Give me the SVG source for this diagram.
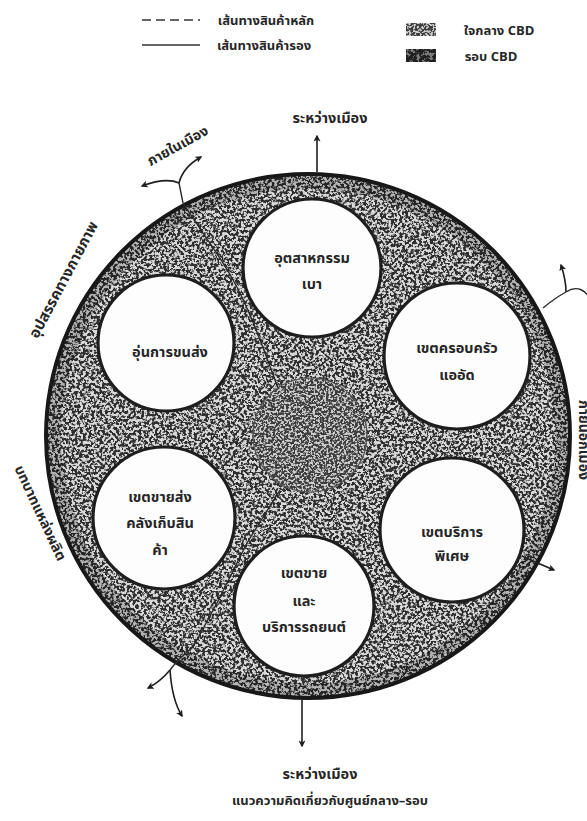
<svg xmlns="http://www.w3.org/2000/svg" width="587" height="821" viewBox="0 0 587 821">
<defs>
<style>
.t{font-family:"Noto Sans Thai","Noto Sans","DejaVu Sans",sans-serif;font-weight:bold;fill:#262626;text-anchor:middle}
.zone{fill:#fdfdfd;stroke:#1e1e1e;stroke-width:3.2}
.route{fill:none;stroke:#2a2a2a;stroke-width:1.4}
.arr{fill:none;stroke:#1e1e1e;stroke-width:1.6;marker-end:url(#ah)}
</style>
<marker id="ah" viewBox="0 0 10 10" refX="8" refY="5" markerWidth="7" markerHeight="7" orient="auto" markerUnits="userSpaceOnUse">
<path d="M0,0 L10,5 L0,10 L2.5,5 z" fill="#1e1e1e"/>
</marker>
<filter id="speckle" x="-2%" y="-2%" width="104%" height="104%" color-interpolation-filters="sRGB">
<feTurbulence type="fractalNoise" baseFrequency="0.36" numOctaves="3" seed="7" result="noise"/>
<feColorMatrix in="noise" type="matrix" values="0 0 0 0 0.18  0 0 0 0 0.18  0 0 0 0 0.18  8 0 0 0 -3.5" result="dark"/>
<feFlood flood-color="#d9d9d9" result="light"/>
<feComposite in="light" in2="SourceGraphic" operator="in" result="base"/>
<feComposite in="dark" in2="SourceGraphic" operator="in" result="darkIn"/>
<feMerge><feMergeNode in="base"/><feMergeNode in="darkIn"/></feMerge>
</filter>
<filter id="core" x="-2%" y="-2%" width="104%" height="104%" color-interpolation-filters="sRGB">
<feTurbulence type="fractalNoise" baseFrequency="0.45" numOctaves="3" seed="11" result="noise"/>
<feColorMatrix in="noise" type="matrix" values="0 0 0 0 0.24  0 0 0 0 0.24  0 0 0 0 0.24  8 0 0 0 -3.3" result="dark"/>
<feFlood flood-color="#cdcdcd" result="light"/>
<feComposite in="light" in2="SourceGraphic" operator="in" result="base"/>
<feComposite in="dark" in2="SourceGraphic" operator="in" result="darkIn"/>
<feMerge><feMergeNode in="base"/><feMergeNode in="darkIn"/></feMerge>
</filter>
<filter id="darksw" x="0" y="0" width="100%" height="100%" color-interpolation-filters="sRGB">
<feTurbulence type="fractalNoise" baseFrequency="0.3" numOctaves="2" seed="3" result="noise"/>
<feColorMatrix in="noise" type="matrix" values="0 0 0 0 0.12  0 0 0 0 0.12  0 0 0 0 0.12  9 0 0 0 -3.6" result="dark"/>
<feFlood flood-color="#7a7a7a" result="light"/>
<feComposite in="light" in2="SourceGraphic" operator="in" result="base"/>
<feComposite in="dark" in2="SourceGraphic" operator="in" result="darkIn"/>
<feMerge><feMergeNode in="base"/><feMergeNode in="darkIn"/></feMerge>
</filter>
</defs>
<rect width="587" height="821" fill="#ffffff"/>

<g id="legend">
<line x1="142" y1="20" x2="200" y2="20" stroke="#333" stroke-width="1.5" stroke-dasharray="9,5"/>
<text class="t" x="266" y="25" font-size="13" font-weight="normal">เส้นทางสินค้าหลัก</text>
<line x1="142" y1="45" x2="200" y2="45" stroke="#333" stroke-width="1.5"/>
<text class="t" x="264" y="50" font-size="13" font-weight="normal">เส้นทางสินค้ารอง</text>
<rect x="406" y="23" width="30" height="13" fill="#999" filter="url(#core)"/>
<text class="t" x="499" y="35" font-size="13">ใจกลาง CBD</text>
<rect x="406" y="49" width="30" height="13" fill="#444" filter="url(#darksw)"/>
<text class="t" x="491" y="61" font-size="13">รอบ CBD</text>
</g>

<g id="ring">
<circle cx="308" cy="436" r="262" fill="#888" filter="url(#speckle)"/>
<circle cx="308" cy="436" r="254" fill="none" stroke="#000" stroke-opacity="0.18" stroke-width="14"/>
<circle cx="308" cy="436" r="262" fill="none" stroke="#181818" stroke-width="4"/>
</g>

<g id="cbd-core">
<circle cx="310" cy="435" r="57" fill="#777" filter="url(#core)"/>
<circle cx="310" cy="435" r="57" fill="none" stroke="#555" stroke-width="1.2"/>
</g>

<g id="connectors">
<path class="route" d="M183,203 C200,230 215,248 232,278 S262,345 278,388"/>
<path class="route" d="M178,660 L193,647 L217,603 L247,543 L280,490"/>
<path class="arr" d="M317,172 L317,136"/>
<path class="arr" d="M302,700 L302,746"/>
<path class="route" d="M183,203 L179,183"/>
<path class="arr" d="M179,183 Q166,177 142,186"/>
<path class="arr" d="M179,183 Q183,167 201,157"/>
<path class="route" d="M543,308 Q555,298 566,292"/>
<path class="arr" d="M566,292 Q566,280 561,265"/>
<path class="route" d="M566,292 Q582,282 592,302"/>
<path class="route" d="M178,660 L170,670"/>
<path class="arr" d="M170,670 Q160,682 148,688"/>
<path class="arr" d="M170,670 Q172,700 182,716"/>
<path class="arr" d="M522,556 Q537,563 554,570"/>
</g>

<g id="zone-light-industry">
<circle class="zone" cx="312" cy="268" r="69"/>
<text class="t" x="312" y="263" font-size="14.5">อุตสาหกรรม</text>
<text class="t" x="312" y="289" font-size="14.5">เบา</text>
</g>
<g id="zone-transport">
<circle class="zone" cx="166" cy="343" r="68"/>
<text class="t" x="170" y="357" font-size="14.5">อุ่นการขนส่ง</text>
</g>
<g id="zone-housing">
<circle class="zone" cx="457" cy="356" r="73"/>
<text class="t" x="457" y="353" font-size="14.5">เขตครอบครัว</text>
<text class="t" x="457" y="380" font-size="14.5">แออัด</text>
</g>
<g id="zone-wholesale">
<circle class="zone" cx="164" cy="518" r="71"/>
<text class="t" x="160" y="502" font-size="14.5">เขตขายส่ง</text>
<text class="t" x="160" y="528" font-size="14.5">คลังเก็บสิน</text>
<text class="t" x="160" y="555" font-size="14.5">ค้า</text>
</g>
<g id="zone-special">
<circle class="zone" cx="452" cy="530" r="72"/>
<text class="t" x="452" y="537" font-size="14.5">เขตบริการ</text>
<text class="t" x="452" y="561" font-size="14.5">พิเศษ</text>
</g>
<g id="zone-car">
<circle class="zone" cx="304" cy="606" r="70"/>
<text class="t" x="304" y="578" font-size="14.5">เขตขาย</text>
<text class="t" x="304" y="606" font-size="14.5">และ</text>
<text class="t" x="304" y="632" font-size="14.5">บริการรถยนต์</text>
</g>

<g id="labels">
<text class="t" x="330" y="123" font-size="14.5">ระหว่างเมือง</text>
<text class="t" x="320" y="779" font-size="14.5">ระหว่างเมือง</text>
<text class="t" x="330" y="805" font-size="13">แนวความคิดเกี่ยวกับศูนย์กลาง–รอบ</text>
<text class="t" font-size="14" transform="translate(180,150) rotate(-29)">ภายในเมือง</text>
<text class="t" font-size="15" transform="translate(68,282) rotate(-62)">อุปสรรคทางกายภาพ</text>
<text class="t" font-size="14" transform="translate(36,515) rotate(65)">บทบาทแหล่งผลิต</text>
<text class="t" font-size="14" transform="translate(579,440) rotate(90)">ภายนอกเมือง</text>
</g>
</svg>
